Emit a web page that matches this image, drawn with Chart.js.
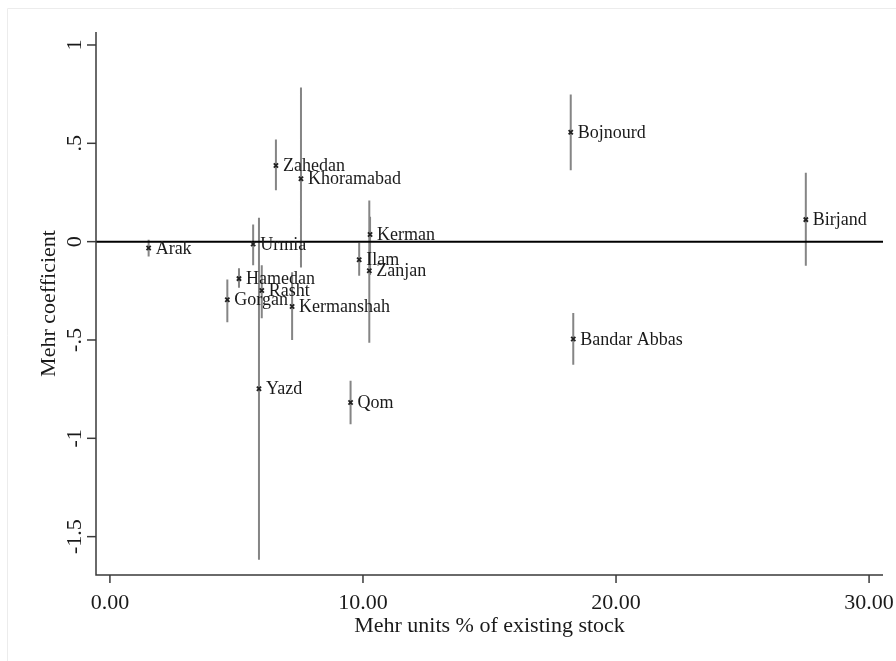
<!DOCTYPE html>
<html>
<head>
<meta charset="utf-8">
<script src="https://cdn.jsdelivr.net/npm/chart.js@4.4.1/dist/chart.umd.min.js"></script>
<style>
  html, body { margin: 0; padding: 0; background: #fff; }
  #wrap { width: 896px; height: 661px; position: relative; }
</style>
</head>
<body>
<div id="wrap"><canvas id="c" width="896" height="661"></canvas></div>
<script>
// City-level Mehr coefficients with confidence intervals
const cities = ['Arak', 'Urmia', 'Zahedan', 'Khoramabad', 'Hamedan', 'Rasht', 'Gorgan', 'Kermanshah',
                'Yazd', 'Kerman', 'Ilam', 'Zanjan', 'Qom', 'Bojnourd', 'Birjand', 'Bandar Abbas'];
const mehrShare = [1.53, 5.66, 6.56, 7.55, 5.10, 6.00, 4.64, 7.20,
                   5.89, 10.28, 9.85, 10.25, 9.51, 18.21, 27.50, 18.31];
const coef      = [-0.032, -0.012, 0.387, 0.320, -0.188, -0.248, -0.295, -0.330,
                   -0.748, 0.036, -0.092, -0.148, -0.818, 0.556, 0.112, -0.495];
const ciLow     = [-0.075, -0.120, 0.261, -0.132, -0.235, -0.390, -0.410, -0.500,
                   -1.618, -0.170, -0.173, -0.514, -0.928, 0.363, -0.122, -0.626];
const ciHigh    = [0.010, 0.087, 0.519, 0.784, -0.135, -0.120, -0.193, -0.156,
                   0.122, 0.127, -0.005, 0.209, -0.707, 0.748, 0.350, -0.363];

const xTickValues = [0, 10, 20, 30];
const xTickLabels = ['0.00', '10.00', '20.00', '30.00'];
const yTickValues = [1, 0.5, 0, -0.5, -1, -1.5];
const yTickLabels = ['1', '.5', '0', '-.5', '-1', '-1.5'];

const xTitle = 'Mehr units % of existing stock';
const yTitle = 'Mehr coefficient';

const X_MIN = -0.55, X_MAX = 30.55;
const Y_MIN = -1.695, Y_MAX = 1.066;

const SERIF = '"Liberation Serif", "Times New Roman", serif';
const AXIS_COLOR = '#3a3a3a';

// points and spikes
const pointData = mehrShare.map((x, i) => ({ x: x, y: coef[i] }));
const spikeData = [];
mehrShare.forEach((x, i) => {
  spikeData.push({ x: x, y: ciLow[i] });
  spikeData.push({ x: x, y: ciHigh[i] });
  spikeData.push({ x: x, y: null });
});
const zeroLine = [{ x: X_MIN, y: 0 }, { x: X_MAX, y: 0 }];

// axes ticks, tick labels, titles, point labels
const decorPlugin = {
  id: 'decor',
  beforeDraw(chart) {
    const ctx = chart.ctx;
    ctx.save();
    ctx.strokeStyle = '#ececec';
    ctx.lineWidth = 1;
    ctx.beginPath();
    ctx.moveTo(7.5, 700); ctx.lineTo(7.5, 8.5); ctx.lineTo(900, 8.5);
    ctx.stroke();
    ctx.restore();
  },
  afterDraw(chart) {
    const ctx = chart.ctx;
    const xs = chart.scales.x, ys = chart.scales.y;
    const area = chart.chartArea;
    ctx.save();
    ctx.strokeStyle = AXIS_COLOR;
    ctx.lineWidth = 1.5;
    // axis lines
    ctx.beginPath();
    ctx.moveTo(area.left, area.top);
    ctx.lineTo(area.left, area.bottom);
    ctx.lineTo(area.right, area.bottom);
    ctx.stroke();
    // y ticks
    ctx.fillStyle = '#1a1a1a';
    ctx.font = '22px ' + SERIF;
    yTickValues.forEach((v, i) => {
      const py = ys.getPixelForValue(v);
      ctx.beginPath();
      ctx.moveTo(area.left - 9, py);
      ctx.lineTo(area.left, py);
      ctx.stroke();
      ctx.save();
      ctx.translate(area.left - 15, py);
      ctx.rotate(-Math.PI / 2);
      ctx.textAlign = 'center';
      ctx.textBaseline = 'alphabetic';
      ctx.fillText(yTickLabels[i], 0, 0);
      ctx.restore();
    });
    // x ticks
    xTickValues.forEach((v, i) => {
      const px = xs.getPixelForValue(v);
      ctx.beginPath();
      ctx.moveTo(px, area.bottom);
      ctx.lineTo(px, area.bottom + 8);
      ctx.stroke();
      ctx.textAlign = 'center';
      ctx.textBaseline = 'alphabetic';
      ctx.fillText(xTickLabels[i], px, area.bottom + 34);
    });
    // axis titles
    ctx.textAlign = 'center';
    ctx.fillText(xTitle, (area.left + area.right) / 2, area.bottom + 57);
    ctx.save();
    ctx.translate(55, (area.top + area.bottom) / 2);
    ctx.rotate(-Math.PI / 2);
    ctx.fillText(yTitle, 0, 0);
    ctx.restore();
    ctx.restore();
  },
  afterDatasetsDraw(chart) {
    const ctx = chart.ctx;
    const meta = chart.getDatasetMeta(0);
    ctx.save();
    ctx.fillStyle = '#1a1a1a';
    ctx.font = '18px ' + SERIF;
    ctx.textAlign = 'left';
    ctx.textBaseline = 'middle';
    meta.data.forEach((el, i) => {
      ctx.fillText(cities[i], el.x + 7, el.y + 1);
    });
    ctx.restore();
  }
};

new Chart(document.getElementById('c'), {
  type: 'scatter',
  data: {
    datasets: [
      {
        label: 'Coefficient',
        data: pointData,
        pointStyle: 'crossRot',
        pointRadius: 3,
        pointHoverRadius: 3,
        borderColor: '#222',
        backgroundColor: '#222',
        borderWidth: 1.8,
        order: 0
      },
      {
        label: 'Zero',
        type: 'line',
        data: zeroLine,
        borderColor: '#000',
        borderWidth: 2,
        pointRadius: 0,
        showLine: true,
        order: 1
      },
      {
        label: 'Interval',
        type: 'line',
        data: spikeData,
        borderColor: '#858585',
        borderWidth: 2,
        pointRadius: 0,
        showLine: true,
        spanGaps: false,
        order: 2
      }
    ]
  },
  options: {
    responsive: false,
    animation: false,
    events: [],
    layout: { padding: { left: 96, top: 32, right: 13, bottom: 86 } },
    plugins: { legend: { display: false }, tooltip: { enabled: false } },
    scales: {
      x: {
        type: 'linear', min: X_MIN, max: X_MAX,
        ticks: { display: false },
        grid: { display: false, drawTicks: false },
        border: { display: false },
        title: { display: false }
      },
      y: {
        type: 'linear', min: Y_MIN, max: Y_MAX,
        ticks: { display: false },
        grid: { display: false, drawTicks: false },
        border: { display: false },
        title: { display: false }
      }
    }
  },
  plugins: [decorPlugin]
});
</script>
</body>
</html>
